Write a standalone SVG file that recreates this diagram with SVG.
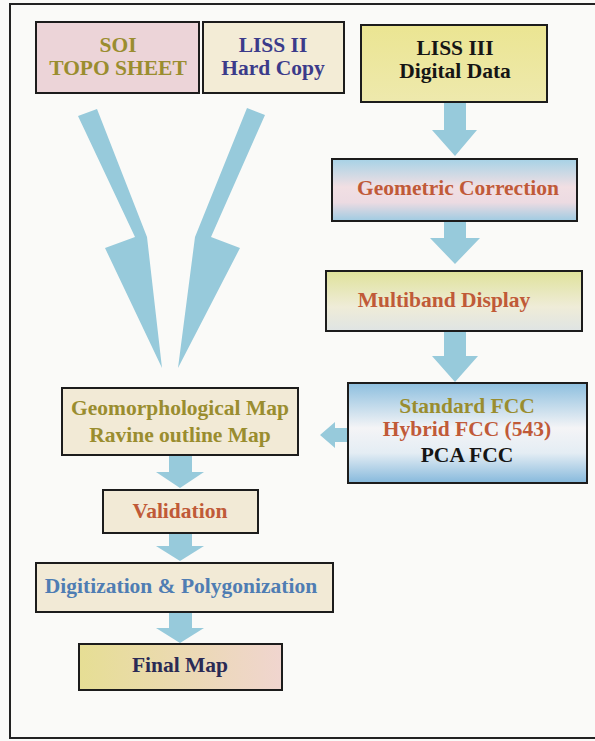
<svg xmlns="http://www.w3.org/2000/svg" width="595" height="741" viewBox="0 0 595 741">
<style>
.box{stroke:#1c1c1c;stroke-width:2}
.t{font-family:"Liberation Serif","Times New Roman",serif;font-weight:bold;font-size:21.5px;text-anchor:middle}
.olive{fill:#9a8d2f}
.navy{fill:#3b3b8a}
.red{fill:#c05a38}
.blk{fill:#151515}
.blue{fill:#4f7db3}
.arr{fill:#97cadb}
.cream{fill:#f2eAD6}
</style>
<defs>
<linearGradient id="gGeo" x1="0" y1="0" x2="0" y2="1">
<stop offset="0" stop-color="#a6d2e6"/>
<stop offset="0.45" stop-color="#f1dfe3"/>
<stop offset="0.7" stop-color="#ecdbe2"/>
<stop offset="1" stop-color="#9fcbe2"/>
</linearGradient>
<linearGradient id="gMulti" x1="0" y1="0" x2="0" y2="1">
<stop offset="0" stop-color="#dfe29a"/>
<stop offset="0.6" stop-color="#efecd8"/>
<stop offset="1" stop-color="#dfe4e4"/>
</linearGradient>
<linearGradient id="gFcc" x1="0" y1="0" x2="0" y2="1">
<stop offset="0" stop-color="#8dbfdf"/>
<stop offset="0.45" stop-color="#f4f4f6"/>
<stop offset="0.7" stop-color="#e4edf4"/>
<stop offset="1" stop-color="#86b9dc"/>
</linearGradient>
<linearGradient id="gL3" x1="0" y1="0" x2="0" y2="1">
<stop offset="0" stop-color="#ebe592"/>
<stop offset="1" stop-color="#eee9ad"/>
</linearGradient>
<linearGradient id="gFinal" x1="0" y1="0" x2="1" y2="0">
<stop offset="0" stop-color="#e6de94"/>
<stop offset="1" stop-color="#f0d5cf"/>
</linearGradient>
</defs>
<rect x="0" y="0" width="595" height="741" fill="#fafaf8"/>
<rect x="10" y="4" width="600" height="734" fill="none" stroke="#222" stroke-width="2"/>

<g id="connectors">
<polygon class="arr" points="78,116 97,109 147,237 162,368 105,248 135,237"/>
<polygon class="arr" points="247,108 265,115 211,237 240,248 178,368 195,237"/>
<polygon class="arr" points="444,102 466,102 466,130 477,130 455,156 432,130 444,130"/>
<polygon class="arr" points="444,221 466,221 466,238 480,238 455,264 430,238 444,238"/>
<polygon class="arr" points="444,331 466,331 466,356 478,356 455,382 432,356 444,356"/>
<polygon class="arr" points="348,428 335,428 335,422 320,435 335,448 335,442 348,442"/>
<polygon class="arr" points="169,455 192,455 192,472 204,472 180,488 156,472 169,472"/>
<polygon class="arr" points="169,533 192,533 192,546 204,546 180,561 156,546 169,546"/>
<polygon class="arr" points="169,612 192,612 192,628 204,628 180,643 156,628 169,628"/>
</g>

<g id="soi">
<rect class="box" x="36" y="22" width="163" height="71" fill="#ecd4d8"/>
<text class="t olive" x="118" y="52">SOI</text>
<text class="t olive" x="118" y="75">TOPO SHEET</text>
</g>
<g id="liss2">
<rect class="box" x="203" y="22" width="141" height="71" fill="#f3ecd6"/>
<text class="t navy" x="273" y="52">LISS II</text>
<text class="t navy" x="273" y="75">Hard Copy</text>
</g>
<g id="liss3">
<rect class="box" x="361" y="25" width="186" height="77" fill="url(#gL3)"/>
<text class="t blk" x="455" y="55">LISS III</text>
<text class="t blk" x="455" y="78">Digital Data</text>
</g>
<g id="geocorr">
<rect class="box" x="332" y="159" width="245" height="62" fill="url(#gGeo)"/>
<text class="t red" x="458" y="195">Geometric Correction</text>
</g>
<g id="multiband">
<rect class="box" x="326" y="271" width="256" height="60" fill="url(#gMulti)"/>
<text class="t red" x="444" y="307">Multiband Display</text>
</g>
<g id="fcc">
<rect class="box" x="348" y="383" width="239" height="100" fill="url(#gFcc)"/>
<text class="t olive" x="467" y="413">Standard FCC</text>
<text class="t red" x="467" y="436">Hybrid FCC (543)</text>
<text class="t blk" x="467" y="462">PCA FCC</text>
</g>
<g id="geomorph">
<rect class="box" x="62" y="388" width="236" height="67" fill="#f2ead6"/>
<text class="t olive" x="180" y="415">Geomorphological Map</text>
<text class="t olive" x="180" y="442">Ravine outline Map</text>
</g>
<g id="validation">
<rect class="box" x="103" y="490" width="155" height="43" fill="#f2ead6"/>
<text class="t red" x="180" y="518">Validation</text>
</g>
<g id="digitization">
<rect class="box" x="36" y="563" width="297" height="49" fill="#f2ead6"/>
<text class="t blue" x="181" y="593">Digitization &amp; Polygonization</text>
</g>
<g id="finalmap">
<rect class="box" x="79" y="644" width="203" height="46" fill="url(#gFinal)"/>
<text class="t" x="180" y="672" fill="#2a2a55">Final Map</text>
</g>
</svg>
